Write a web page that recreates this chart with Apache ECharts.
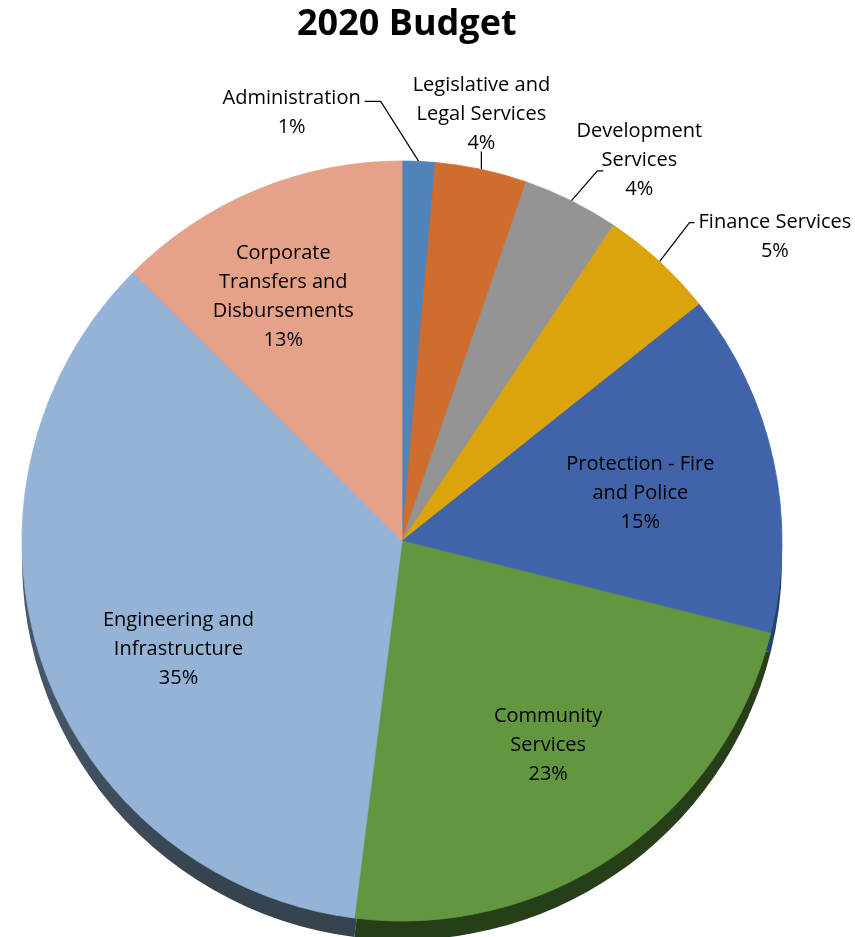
<!DOCTYPE html>
<html>
<head>
<meta charset="utf-8">
<title>2020 Budget</title>
<script src="https://cdn.jsdelivr.net/npm/echarts@6/dist/echarts.min.js"></script>
<style>
  html, body { margin: 0; padding: 0; background: #fff; }
  #budgetPie { width: 855px; height: 937px; }
</style>
</head>
<body>
<div id="budgetPie"></div>
<script>
// departments, clockwise from 12 o'clock
var categories = [
	'Administration',
	'Legislative and\nLegal Services',
	'Development\nServices',
	'Finance Services',
	'Protection - Fire\nand Police',
	'Community\nServices',
	'Engineering and\nInfrastructure',
	'Corporate\nTransfers and\nDisbursements'
];
// share of budget (%)
var values = [1.4, 3.9, 4.1, 4.9, 14.6, 23.1, 35.49, 12.51];
var topColors = ['#5083b9', '#cf6d2e', '#949494', '#dba40c', '#3f64aa', '#62973f', '#94b3d7', '#e6a189'];
var sideColors = ['#2d4a6b', '#7a3f1a', '#555555', '#7e5f07', '#27406f', '#263f18', '#3d4b5d', '#8a5e50'];
var outsideLabels = [0, 1, 2, 3];

var CX = 402, CY = 541, R = 380, DEPTH = 19;
var FONT = 'Open Sans';

var mainData = [], sideData = [], innerData = [];
for (var i = 0; i < values.length; i++) {
	var isOut = outsideLabels.indexOf(i) >= 0;
	mainData.push({
		name: categories[i],
		value: values[i],
		itemStyle: { color: topColors[i], borderColor: topColors[i], borderWidth: 0.8 },
		label: { show: isOut },
		labelLine: { show: isOut }
	});
	sideData.push({
		name: categories[i],
		value: values[i],
		itemStyle: {
			color: i == 6 ? new echarts.graphic.LinearGradient(0, 0, 1, 0.3, [
				{ offset: 0, color: '#7890ad' },
				{ offset: 0.35, color: '#4a5a6e' },
				{ offset: 1, color: '#36444f' }
			]) : sideColors[i]
		}
	});
	innerData.push({
		name: categories[i],
		value: values[i],
		label: { show: !isOut }
	});
}

// where the leader lines and outside labels go
function placeOutside(params) {
	var p0 = params.labelLinePoints ? params.labelLinePoints[0] : null;
	if (!p0) return;
	var w = params.labelRect.width, h = params.labelRect.height;
	var x0 = p0[0], y0 = p0[1], p1, p2, lx, ly;
	switch (params.dataIndex) {
		case 0:
			p1 = [x0 - 38, y0 - 60];
			p2 = [x0 - 54, y0 - 60];
			lx = p2[0] - 4 - w / 2;
			ly = p2[1] + 11;
			break;
		case 1:
			p1 = [x0, y0 - 10];
			p2 = [x0, y0 - 18];
			lx = x0;
			ly = p2[1] + 6 - h / 2;
			break;
		case 2:
			p1 = [x0 + 26, y0 - 30];
			p2 = [x0 + 32, y0 - 30];
			lx = x0 + 68;
			ly = y0 - 41;
			break;
		case 3:
			p1 = [x0 + 30, y0 - 39];
			p2 = [x0 + 35, y0 - 39];
			lx = p2[0] + 4 + w / 2;
			ly = y0 - 25;
			break;
		default:
			return;
	}
	return {
		x: lx,
		y: ly,
		align: 'center',
		verticalAlign: 'middle',
		labelLinePoints: [p0, p1, p2]
	};
}

// small nudges so the inner labels sit where the original has them
var innerNudge = {
	4: [-6, 5],
	5: [5, -2],
	6: [13, 27],
	7: [-23, -13]
};
function placeInside(params) {
	var n = innerNudge[params.dataIndex];
	if (!n) return;
	return { dx: n[0], dy: n[1] };
}

var option = {
	backgroundColor: '#ffffff',
	animation: false,
	title: {
		text: '2020 Budget',
		left: 292,
		top: 2,
		textStyle: { fontFamily: FONT, fontSize: 36, fontWeight: 'bold', color: '#000' }
	},
	series: [
		{
			// side of the disc, shows below the top face
			name: 'side',
			type: 'pie',
			silent: true,
			center: [CX, CY + DEPTH],
			radius: [0, R],
			startAngle: 90,
			clockwise: true,
			label: { show: false },
			labelLine: { show: false },
			data: sideData,
			z: 1
		},
		{
			name: '2020 Budget',
			type: 'pie',
			center: [CX, CY],
			radius: [0, R],
			startAngle: 90,
			clockwise: true,
			percentPrecision: 0,
			avoidLabelOverlap: false,
			label: {
				position: 'outside',
				formatter: '{b}\n{d}%',
				fontFamily: FONT,
				fontSize: 20,
				lineHeight: 29,
				color: '#000'
			},
			labelLine: {
				length: 10,
				length2: 10,
				smooth: false,
				lineStyle: { color: '#000', width: 1.2 }
			},
			labelLayout: placeOutside,
			data: mainData,
			z: 2
		},
		{
			// transparent ring only used to put the big slices' labels further out
			name: 'labels',
			type: 'pie',
			silent: true,
			center: [CX, CY],
			radius: [R * 0.3, R],
			startAngle: 90,
			clockwise: true,
			percentPrecision: 0,
			itemStyle: { color: 'rgba(0,0,0,0)' },
			label: {
				position: 'inside',
				formatter: '{b}\n{d}%',
				fontFamily: FONT,
				fontSize: 20,
				lineHeight: 29,
				color: '#000'
			},
			labelLine: { show: false },
			labelLayout: placeInside,
			data: innerData,
			z: 3
		}
	]
};

var myChart = echarts.init(document.getElementById('budgetPie'));
myChart.setOption(option);
</script>
</body>
</html>
